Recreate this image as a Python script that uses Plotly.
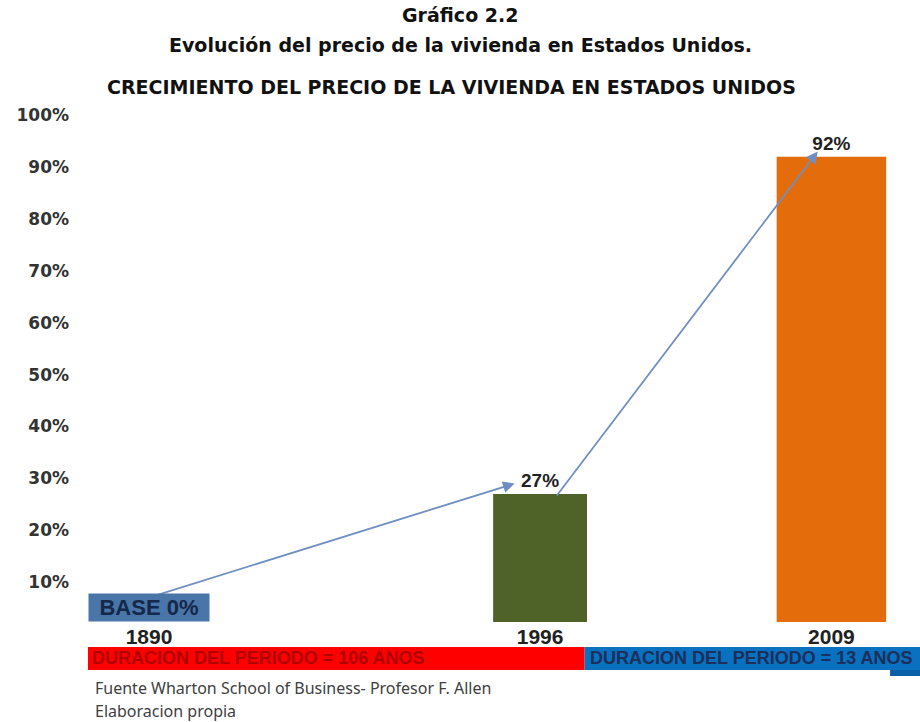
import plotly.graph_objects as go

# datos
anios = ["1890", "1996", "2009"]
crecimiento = [0, 27, 92]
etiquetas = ["", "27%", "92%"]
ticks_y = [10, 20, 30, 40, 50, 60, 70, 80, 90, 100]
ticks_y_txt = ["10%", "20%", "30%", "40%", "50%", "60%", "70%", "80%", "90%", "100%"]
periodos = ["DURACION DEL PERIODO = 106 ANOS", "DURACION DEL PERIODO = 13 ANOS"]

# posiciones de cada año en el eje (espaciado no uniforme como en el original)
pos_x = [0, 1, 1.745]
anchos = [0.24, 0.24, 0.28]
colores = ["#4a75a8", "#4f6228", "#e46c0a"]

ARIAL = "Liberation Sans, Arial, sans-serif"
ANCHA = "DejaVu Sans, Verdana, sans-serif"

fig = go.Figure()
fig.add_trace(go.Bar(
    x=pos_x, y=crecimiento, width=anchos,
    marker=dict(color=colores, line=dict(width=0)),
    text=etiquetas, textposition="outside", cliponaxis=False,
    textfont=dict(family=ARIAL, size=19, color="#222222", weight="bold"),
    showlegend=False,
))

# flechas de evolucion
flecha = dict(showarrow=True, text="", arrowhead=2, arrowsize=1.3, arrowwidth=1.8,
              arrowcolor="#6f8fc3", axref="x", ayref="y", xref="x", yref="y")
fig.add_annotation(x=pos_x[1] - 0.065, y=crecimiento[1] + 2,
                   ax=pos_x[0] + 0.02, ay=crecimiento[0] + 7.5, **flecha)
fig.add_annotation(x=pos_x[2] - 0.035, y=crecimiento[2] + 1,
                   ax=pos_x[1] + 0.04, ay=crecimiento[1] - 0.6, **flecha)

# caja BASE 0%
fig.add_annotation(x=pos_x[0], y=0, xref="x", yref="paper", yanchor="bottom",
                   text="<b>BASE 0%</b>", showarrow=False, bgcolor="#4a75a8",
                   width=118, height=25, borderpad=1,
                   font=dict(family=ARIAL, size=22, color="#14284a"))

# titulos
fig.add_annotation(x=0.458, y=1.181, xref="paper", yref="paper", yanchor="middle",
                   showarrow=False, text="<b>Gráfico 2.2</b>",
                   font=dict(family=ANCHA, size=19, color="#111111"))
fig.add_annotation(x=0.458, y=1.1226, xref="paper", yref="paper", yanchor="middle",
                   showarrow=False,
                   text="<b>Evolución del precio de la vivienda en Estados Unidos.</b>",
                   font=dict(family=ANCHA, size=19, color="#111111"))
fig.add_annotation(x=0.448, y=1.041, xref="paper", yref="paper", yanchor="middle",
                   showarrow=False,
                   text="<b>CRECIMIENTO DEL PRECIO DE LA VIVIENDA EN ESTADOS UNIDOS</b>",
                   font=dict(family=ANCHA, size=19, color="#111111"))

# bandas de periodo
fig.add_shape(type="rect", xref="paper", yref="paper", x0=0.0096, x1=0.608,
              y0=-0.0934, y1=-0.0486, fillcolor="#ff0000", line=dict(width=0))
fig.add_shape(type="rect", xref="paper", yref="paper", x0=0.608, x1=1.02,
              y0=-0.0934, y1=-0.0486, fillcolor="#0a70c0", line=dict(width=0))
fig.add_shape(type="rect", xref="paper", yref="paper", x0=0.976, x1=1.02,
              y0=-0.105, y1=-0.0934, fillcolor="#0a5fa8", line=dict(width=0))
fig.add_annotation(x=0.012, y=-0.071, xref="paper", yref="paper", xanchor="left",
                   yanchor="middle", showarrow=False, text="<b>" + periodos[0] + "</b>",
                   font=dict(family=ARIAL, size=18, color="#b00000"))
fig.add_annotation(x=0.612, y=-0.071, xref="paper", yref="paper", xanchor="left",
                   yanchor="middle", showarrow=False, text="<b>" + periodos[1] + "</b>",
                   font=dict(family=ARIAL, size=18, color="#1a2f5a"))

# fuente
fig.add_annotation(x=0.0157, y=-0.129, xref="paper", yref="paper", xanchor="left",
                   yanchor="middle", showarrow=False,
                   text="Fuente Wharton School of Business- Profesor F. Allen",
                   font=dict(family="Noto Sans, sans-serif", size=16, color="#404040"))
fig.add_annotation(x=0.0157, y=-0.174, xref="paper", yref="paper", xanchor="left",
                   yanchor="middle", showarrow=False, text="Elaboracion propia",
                   font=dict(family="Noto Sans, sans-serif", size=16, color="#404040"))

fig.update_layout(
    width=920, height=722,
    margin=dict(l=80, r=10, t=108, b=100),
    plot_bgcolor="white", paper_bgcolor="white",
    xaxis=dict(range=[-0.1765, 1.946], tickvals=pos_x, ticktext=anios,
               showgrid=False, zeroline=False, showline=False, ticks="",
               tickfont=dict(family=ARIAL, size=21, color="#222222", weight="bold")),
    yaxis=dict(range=[2.3, 101.4], tickvals=ticks_y, ticktext=ticks_y_txt,
               showgrid=False, zeroline=False, showline=False, ticks="",
               ticklabelstandoff=10,
               tickfont=dict(family=ANCHA, size=17, color="#333333", weight="bold")),
)

fig.write_html("out.html", config={"displayModeBar": False},
               post_script="document.body.style.margin='0';")
